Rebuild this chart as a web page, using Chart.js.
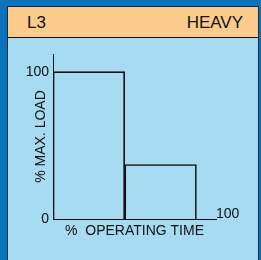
<!DOCTYPE html>
<html>
<head>
<meta charset="utf-8">
<script src="https://cdn.jsdelivr.net/npm/chart.js@4"></script>
<style>
  html, body { margin: 0; padding: 0; }
  body { width: 261px; height: 260px; background: #0b72bc; position: relative; overflow: hidden;
         font-family: "Liberation Sans Narrow", "Liberation Sans", Arial, sans-serif; }
  #panel { position: absolute; left: 7px; top: 6px; width: 250px; height: 260px; background: #a6dbf2;
           border-left: 1px solid #14283a; border-top: 1px solid #14283a; border-right: 1px solid #14283a; }
  #head { position: absolute; left: 0; top: 0; width: 250px; height: 30px; background: #fccb8b;
          border-bottom: 1px solid #111; }
  #head span { position: absolute; top: 6px; font-size: 17px; color: #111; }
  #wrap { position: absolute; left: 0; top: 31px; width: 250px; height: 222px; }
</style>
</head>
<body>
<div id="panel">
  <div id="head"><span style="left:19px">L3</span><span style="right:15px">HEAVY</span></div>
  <div id="wrap"><canvas id="c" width="250" height="222"></canvas></div>
</div>
<script>
// duty cycle: share of operating time spent at each load
const timeFrom = [0, 44];
const timeTo = [44, 88];
const loadPct = [100, 37];
const yTicks = [0, 100];
const xTicks = [100];

const fontFamily = "'Liberation Sans Narrow', 'Liberation Sans', Arial, sans-serif";
const font = { family: fontFamily, size: 14 };
const ink = "#111";

// the x axis only labels its end, sitting on the line to the right
const axisEndLabel = {
  id: "axisEndLabel",
  afterDraw(chart) {
    const sx = chart.scales.x;
    const ctx = chart.ctx;
    ctx.save();
    ctx.font = "14px " + fontFamily;
    ctx.fillStyle = ink;
    ctx.textAlign = "left";
    ctx.textBaseline = "alphabetic";
    xTicks.forEach((v) => ctx.fillText(String(v), sx.getPixelForValue(v), sx.top - 1));
    ctx.restore();
  },
};

new Chart(document.getElementById("c"), {
  type: "bar",
  data: {
    datasets: [{
      data: loadPct.map((v, i) => ({ x: (timeFrom[i] + timeTo[i]) / 2, y: v })),
      backgroundColor: "rgba(0,0,0,0)",
      borderColor: ink,
      borderWidth: 1,
      barPercentage: 1,
      categoryPercentage: 1,
    }],
  },
  options: {
    responsive: false,
    animation: false,
    layout: { padding: { top: 16, right: 42, left: 0, bottom: 0 } },
    plugins: { legend: { display: false }, tooltip: { enabled: false } },
    scales: {
      x: {
        type: "linear",
        min: 0,
        max: 100,
        offset: false,
        grid: { display: false, drawTicks: false },
        border: { display: true, color: ink, width: 1 },
        ticks: { display: false },
        title: { display: true, text: "%  OPERATING TIME", font, color: ink, padding: { top: 0, bottom: 20 } },
        afterFit: (s) => { s.height = 41; s.paddingLeft = 0; s.paddingRight = 0; },
      },
      y: {
        min: 0,
        max: 112,
        grid: { display: false, drawTicks: false },
        border: { display: true, color: ink, width: 1 },
        afterBuildTicks: (s) => { s.ticks = yTicks.map((v) => ({ value: v })); },
        ticks: { font, color: ink, padding: 4 },
        title: { display: true, text: "% MAX. LOAD", font, color: ink, padding: { top: 25, bottom: 0 } },
        afterFit: (s) => { s.width = 45; s.paddingTop = 0; s.paddingBottom = 0; },
      },
    },
  },
  plugins: [axisEndLabel],
});
</script>
</body>
</html>
